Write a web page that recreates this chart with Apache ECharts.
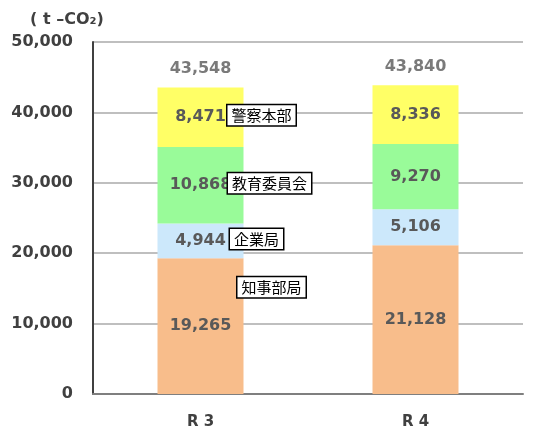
<!DOCTYPE html>
<html>
<head>
<meta charset="utf-8">
<script src="https://cdn.jsdelivr.net/npm/echarts@6/dist/echarts.min.js"></script>
<style>
  html, body { margin: 0; padding: 0; background: #fff; }
  #chart { width: 533px; height: 430px; }
</style>
</head>
<body>
<div id="chart"></div>
<script>
// CO2 emissions by department (t-CO2), fiscal years R3 and R4
const categories = ['R 3', 'R 4'];
const seriesNames = ['知事部局', '企業局', '教育委員会', '警察本部'];
const governorOffice = [19265, 21128];
const enterpriseBureau = [4944, 5106];
const educationBoard = [10868, 9270];
const policeHQ = [8471, 8336];
const yTicks = [0, 10000, 20000, 30000, 40000, 50000];

const seriesValues = [governorOffice, enterpriseBureau, educationBoard, policeHQ];
const colors = ['#F8BD8B', '#CCE8FB', '#99FB99', '#FFFF66'];
// callout offsets (px) relative to the middle of each R3 segment
const calloutOffsets = [[71, -39], [56, -2], [69, -2], [61, -2]];

const totals = categories.map((_, i) => seriesValues.reduce((s, arr) => s + arr[i], 0));
const fmt = v => v.toLocaleString('en-US');

const FONT = 'DejaVu Sans, Verdana, sans-serif';
const chart = echarts.init(document.getElementById('chart'));

const barSeries = seriesNames.map((name, k) => {
  const below = seriesValues.slice(0, k).reduce((s, arr) => s + arr[0], 0);
  const mid = below + seriesValues[k][0] / 2;
  return {
    name: name,
    type: 'bar',
    stack: 'total',
    barWidth: '40%',
    data: seriesValues[k],
    itemStyle: { color: colors[k] },
    label: {
      show: true,
      position: 'inside',
      formatter: p => fmt(p.value),
      color: '#595959',
      fontFamily: FONT,
      fontWeight: 'bold',
      fontSize: 16
    },
    markPoint: {
      symbol: 'rect',
      symbolSize: 0,
      data: [{ coord: [categories[0], mid], value: name }],
      label: {
        show: true,
        position: 'inside',
        offset: calloutOffsets[k],
        formatter: name,
        color: '#000',
        fontFamily: 'Noto Sans CJK JP, sans-serif',
        fontSize: 15,
        backgroundColor: '#fff',
        borderColor: '#000',
        borderWidth: 1.5,
        padding: [3, 4, 2, 4]
      },
      z: 10
    }
  };
});

const totalSeries = {
  name: 'total',
  type: 'scatter',
  data: totals,
  symbolSize: 0,
  label: {
    show: true,
    position: 'top',
    distance: 11,
    formatter: p => fmt(p.value),
    color: '#595959',
    fontFamily: FONT,
    fontWeight: 'bold',
    fontSize: 16
  },
  z: 5
};

chart.setOption({
  animation: false,
  backgroundColor: '#fff',
  grid: { left: 93, right: 10, top: 42, bottom: 36 },
  xAxis: {
    type: 'category',
    data: categories,
    axisTick: { show: false },
    axisLine: { lineStyle: { color: '#7f7f7f', width: 2 } },
    axisLabel: {
      color: '#404040',
      fontFamily: FONT,
      fontWeight: 'bold',
      fontSize: 15,
      margin: 21
    }
  },
  yAxis: {
    type: 'value',
    min: yTicks[0],
    max: yTicks[yTicks.length - 1],
    interval: yTicks[1] - yTicks[0],
    name: '( t –CO₂)',
    nameLocation: 'end',
    nameGap: 14,
    nameTextStyle: {
      color: '#404040',
      fontFamily: FONT,
      fontWeight: 'bold',
      fontSize: 16,
      align: 'center',
      padding: [0, 0, 0, -52]
    },
    axisLine: { show: true, lineStyle: { color: '#404040', width: 2 } },
    axisTick: { show: false },
    splitLine: { lineStyle: { color: '#bfbfbf', width: 2 } },
    axisLabel: {
      color: '#404040',
      fontFamily: FONT,
      fontWeight: 'bold',
      fontSize: 16,
      margin: 20,
      formatter: v => fmt(v)
    }
  },
  series: [...barSeries, totalSeries]
});
</script>
</body>
</html>
